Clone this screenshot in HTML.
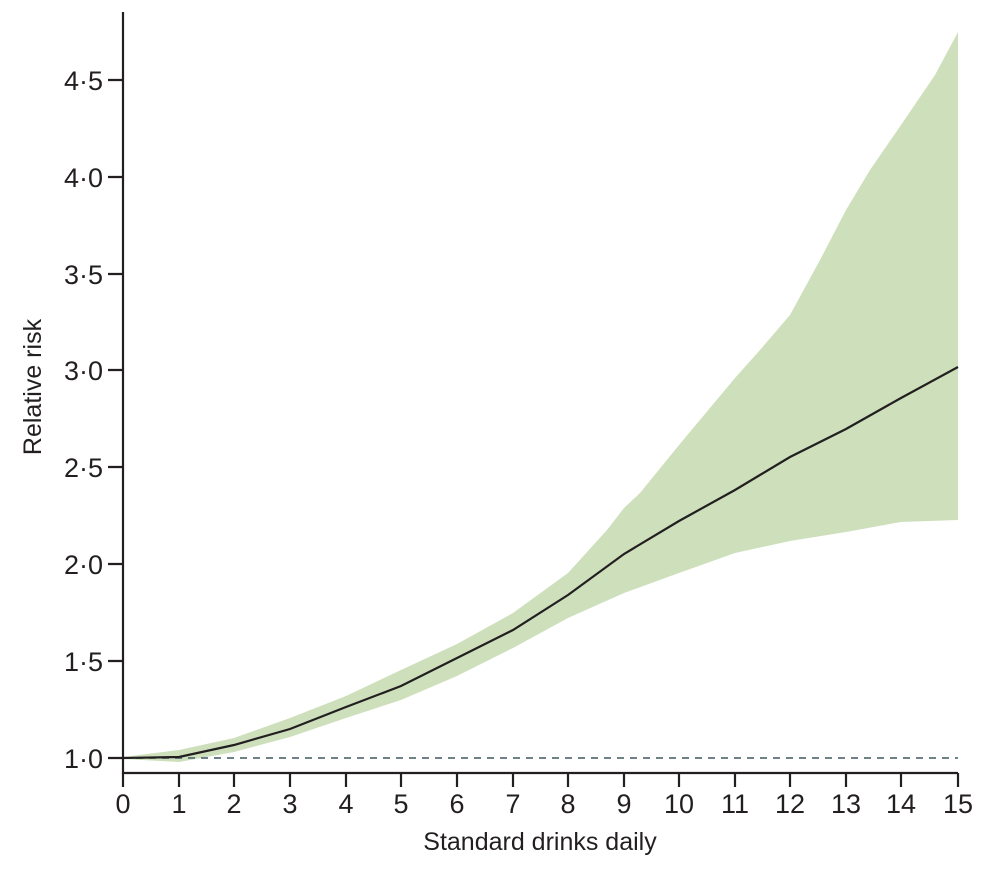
<!DOCTYPE html>
<html><head><style>body{margin:0;background:#fff}svg{display:block}text{font-family:"Liberation Sans",sans-serif;fill:#231f20}</style></head>
<body>
<svg width="988" height="869" viewBox="0 0 988 869">
<path d="M123,757 L179,750 L234,738 L290,718 L346,696 L401,670 L457,644 L513,613 L568,573 L607,530 L624,508 L640,493 L679,445 L735,378 L760,350 L790,315 L820,260 L846,210 L870,170 L901,125 L935,75 L958,32 L958,520 L901,522 L846,532 L790,541 L735,553 L679,573 L624,593 L568,618 L513,648 L457,676 L401,700 L346,718 L290,737 L234,752 L179,762 L123,759 Z" fill="#cde0bb"/>
<line x1="123" y1="758" x2="958" y2="758" stroke="#5a6e78" stroke-width="1.8" stroke-dasharray="7,6"/>
<polyline fill="none" stroke="#231f20" stroke-width="2.2" points="123,758 179,757 234,745 290,729 346,707 401,686 457,658 513,630 568,595 624,554 679,521 735,490 790,457 846,429 901,398 958,367"/>
<g stroke="#231f20" stroke-width="2.2" fill="none">
<line x1="123" y1="12" x2="123" y2="774"/>
<line x1="122" y1="773" x2="958" y2="773"/>
<path d="M108,80H123M108,177H123M108,274H123M108,370H123M108,467H123M108,564H123M108,661H123M108,758H123"/>
<path d="M123,773v14M179,773v14M234,773v14M290,773v14M346,773v14M401,773v14M457,773v14M513,773v14M568,773v14M624,773v14M679,773v14M735,773v14M790,773v14M846,773v14M901,773v14M958,773v14"/>
</g>
<g font-size="27" text-anchor="end">
<text x="103" y="90">4·5</text><text x="103" y="187">4·0</text><text x="103" y="284">3·5</text><text x="103" y="380">3·0</text><text x="103" y="477">2·5</text><text x="103" y="574">2·0</text><text x="103" y="671">1·5</text><text x="103" y="768">1·0</text>
</g>
<g font-size="27" text-anchor="middle">
<text x="123" y="813">0</text><text x="179" y="813">1</text><text x="234" y="813">2</text><text x="290" y="813">3</text><text x="346" y="813">4</text><text x="401" y="813">5</text><text x="457" y="813">6</text><text x="513" y="813">7</text><text x="568" y="813">8</text><text x="624" y="813">9</text><text x="679" y="813">10</text><text x="735" y="813">11</text><text x="790" y="813">12</text><text x="846" y="813">13</text><text x="901" y="813">14</text><text x="958" y="813">15</text>
<text x="540" y="850" font-size="25">Standard drinks daily</text>
<text transform="translate(41,387) rotate(-90)" font-size="25">Relative risk</text>
</g>
</svg>
</body></html>
